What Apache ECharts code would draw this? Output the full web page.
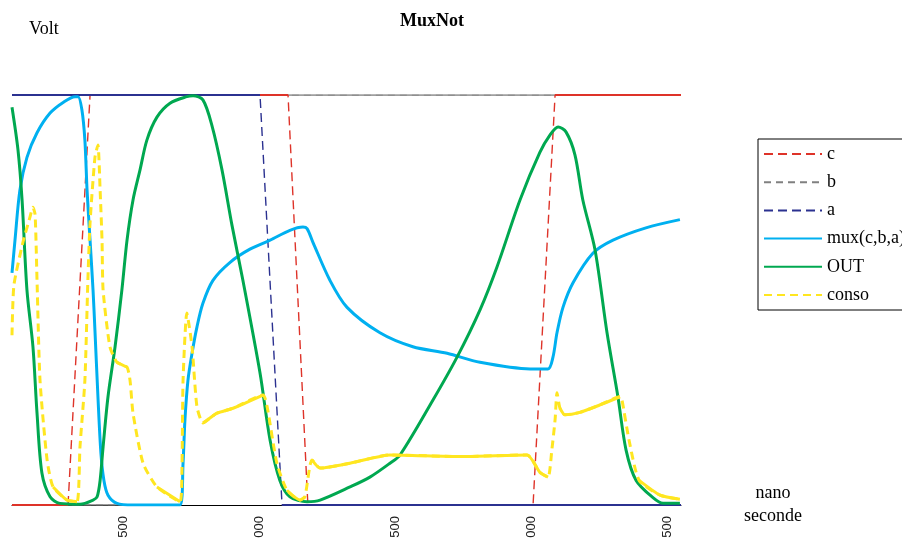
<!DOCTYPE html>
<html><head><meta charset="utf-8">
<script src="https://cdn.jsdelivr.net/npm/echarts@6/dist/echarts.min.js"></script>
<style>html,body{margin:0;padding:0;background:#fff}#c{width:902px;height:538px}</style>
</head><body><div id="c"></div>
<script>
// ---- data ----
const chartTitle = 'MuxNot';
const yName = 'Volt';
const xNameLines = ['nano', 'seconde'];
const xMin = 90, xMax = 2550, yMin = 0, yMax = 5;
const xTickValues = [500, 1000, 1500, 2000, 2500];
const xTickLabels = ['500', '000', '500', '000', '500'];

const cData = [[90,0],[296,0],[377,5],[1105,5],[1178,0],[2006,0],[2087,5],[2550,5]];
// b: its rise is not visible in the picture (break in the line)
const bData = [[90,0],[711,0],[716,null],[722,5],[2550,5]];
const aData = [[90,5],[1002,5],[1083,0],[2550,0]];

const muxData = [[90,2.83],[101,3.23],[119,3.84],[145,4.24],[182,4.54],[230,4.78],[278,4.91],[322,4.98],[333,4.98],[347,4.82],[358,4.45],[366,3.84],[377,3.23],[388,2.62],[395,2.13],[406,1.32],[417,0.63],[428,0.30],[443,0.12],[476,0.02],[535,0],[708,0],[719,0.51],[726,1.04],[737,1.52],[752,1.85],[770,2.17],[792,2.46],[829,2.74],[892,2.96],[965,3.12],[1039,3.23],[1112,3.35],[1160,3.39],[1175,3.37],[1197,3.20],[1259,2.74],[1322,2.41],[1443,2.10],[1564,1.93],[1690,1.85],[1811,1.74],[1995,1.66],[2061,1.66],[2079,1.80],[2094,2.10],[2116,2.41],[2153,2.71],[2226,3.07],[2300,3.23],[2421,3.38],[2546,3.48]];

const outData = [[90,4.85],[112,4.33],[127,3.72],[145,2.62],[167,1.93],[182,1.12],[200,0.39],[230,0.10],[266,0.02],[340,0.01],[388,0.06],[403,0.10],[414,0.30],[425,0.71],[443,1.32],[469,1.93],[494,2.62],[513,3.23],[535,3.72],[561,4.09],[586,4.45],[623,4.73],[671,4.90],[733,4.98],[756,4.99],[792,4.94],[825,4.63],[862,4.09],[899,3.41],[939,2.74],[1002,1.61],[1039,0.79],[1075,0.30],[1112,0.10],[1175,0.04],[1223,0.06],[1333,0.22],[1406,0.34],[1480,0.51],[1517,0.61],[1638,1.28],[1726,1.80],[1811,2.38],[1873,2.90],[1958,3.72],[2031,4.30],[2068,4.51],[2098,4.61],[2127,4.55],[2160,4.27],[2189,3.72],[2234,3.11],[2278,2.10],[2318,1.32],[2348,0.67],[2385,0.30],[2447,0.09],[2484,0.02],[2546,0.02]];

const consoData = [[90,2.07],[97,2.68],[130,3.20],[156,3.51],[167,3.63],[175,3.54],[182,2.74],[193,1.52],[219,0.55],[241,0.22],[292,0.06],[329,0.04],[340,0.71],[358,1.52],[369,2.74],[377,3.44],[395,4.24],[406,4.39],[414,3.84],[421,3.23],[425,2.62],[450,1.93],[476,1.74],[513,1.68],[524,1.52],[535,1.12],[572,0.51],[623,0.22],[708,0.04],[715,0.46],[719,1.52],[733,2.34],[752,1.93],[770,1.20],[792,1.00],[818,1.06],[844,1.12],[903,1.18],[1013,1.34],[1028,1.20],[1064,0.51],[1101,0.18],[1149,0.06],[1167,0.10],[1193,0.55],[1223,0.45],[1333,0.51],[1480,0.61],[1737,0.59],[1984,0.61],[2031,0.40],[2061,0.34],[2075,0.67],[2087,1.04],[2094,1.37],[2105,1.18],[2123,1.10],[2178,1.13],[2252,1.22],[2326,1.32],[2333,1.28],[2359,0.79],[2396,0.30],[2473,0.12],[2546,0.07]];

// ---- layout / style ----
const grid = {left: 12, right: 221, top: 95, bottom: 33};
const plotW = 902 - grid.left - grid.right, plotH = 538 - grid.top - grid.bottom;
const sx = plotW / (xMax - xMin), sy = plotH / (yMax - yMin);
const SERIF = '"Liberation Serif", "Times New Roman", serif';

// Excel-like dashed rendering: shallow segments look solid, steep ones dashed
function shallowParts(data, maxSlope) {
  const out = [];
  let last = null;
  for (let i = 0; i < data.length - 1; i++) {
    const p = data[i], q = data[i + 1];
    if (p[1] == null || q[1] == null) continue;
    const dxp = Math.abs(q[0] - p[0]) * sx, dyp = Math.abs(q[1] - p[1]) * sy;
    if (dyp <= maxSlope * dxp) {
      if (last !== p) {
        if (out.length) out.push([p[0], null]);
        out.push(p);
      }
      out.push(q);
      last = q;
    }
  }
  return out;
}

function lineSeries(name, data, color, width, dash, z, smooth) {
  return {
    name, type: 'line', data, symbol: 'none', showSymbol: false, z,
    smooth: smooth || false,
    lineStyle: {color, width, type: dash ? dash : 'solid', cap: 'butt', join: 'round'},
    itemStyle: {color}, emphasis: {disabled: true}, animation: false, connectNulls: false
  };
}

const colC = '#de3329', colB = '#808080', colA = '#2b3190', colMux = '#00b0f0', colOut = '#00a850', colConso = '#ffe620';

const series = [
  lineSeries('b', bData, colB, 1, [7, 5], 1),
  lineSeries('b', shallowParts(bData, 1.5), colB, 1.6, null, 1),
  lineSeries('c', cData, colC, 1.4, [9, 5], 2),
  lineSeries('c', shallowParts(cData, 1.5), colC, 2, null, 2),
  lineSeries('a', aData, colA, 1.4, [9, 5], 3),
  lineSeries('a', shallowParts(aData, 1.5), colA, 2.2, null, 3),
  lineSeries('mux(c,b,a)', muxData, colMux, 3, null, 4, 0.3),
  lineSeries('OUT', outData, colOut, 3, null, 5, 0.3),
  lineSeries('conso', consoData, colConso, 3, [8, 5], 6, 0.2),
  lineSeries('conso', shallowParts(consoData, 1.5), colConso, 3, null, 6, 0.2)
];

const chart = echarts.init(document.getElementById('c'), null, {renderer: 'canvas'});
chart.setOption({
  backgroundColor: '#fff',
  animation: false,
  grid: Object.assign({containLabel: false, outerBoundsMode: 'none'}, grid),
  xAxis: {
    type: 'value', min: xMin, max: xMax,
    axisLine: {show: true, onZero: false, lineStyle: {color: '#000', width: 1}},
    axisTick: {show: false},
    splitLine: {show: false},
    axisLabel: {
      customValues: xTickValues,
      formatter: (v) => { const i = xTickValues.indexOf(Math.round(v)); return i >= 0 ? xTickLabels[i] : ''; },
      rotate: 90, margin: 11, fontSize: 13, color: '#222',
      fontFamily: '"Liberation Sans", Arial, sans-serif'
    }
  },
  yAxis: {type: 'value', min: yMin, max: yMax, show: false, splitLine: {show: false}},
  legend: {
    orient: 'vertical', left: 758, top: 139,
    data: ['c', 'b', 'a', 'mux(c,b,a)', 'OUT', 'conso'],
    itemWidth: 58, itemHeight: 14, itemGap: 10.2,
    padding: [6, 30, 6, 5],
    borderColor: '#000', borderWidth: 1,
    itemStyle: {opacity: 0},
    textStyle: {fontFamily: SERIF, fontSize: 18, color: '#000', lineHeight: 18},
    selectedMode: false
  },
  graphic: [
    {type: 'text', left: 400, top: 12, style: {text: chartTitle, font: 'bold 18px ' + SERIF, fill: '#000'}},
    {type: 'text', left: 29, top: 20, style: {text: yName, font: '18px ' + SERIF, fill: '#000'}},
    {type: 'text', x: 773, y: 493, style: {text: xNameLines[0], font: '18px ' + SERIF, fill: '#000', align: 'center', verticalAlign: 'middle'}},
    {type: 'text', x: 773, y: 516, style: {text: xNameLines[1], font: '18px ' + SERIF, fill: '#000', align: 'center', verticalAlign: 'middle'}}
  ],
  series
});
</script>
</body></html>
